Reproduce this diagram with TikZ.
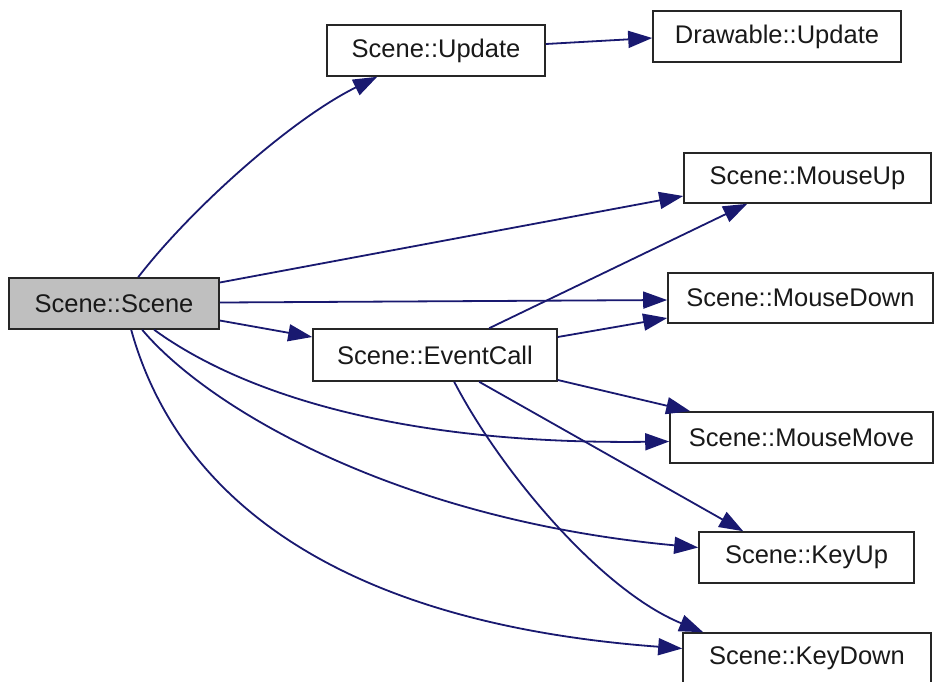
\documentclass[tikz,border=0pt]{standalone}
\usepackage{fontspec}
\setmainfont{Liberation Sans}
\usetikzlibrary{arrows.meta}
\definecolor{edgeblue}{HTML}{191970}
\definecolor{boxgray}{HTML}{BFBFBF}
\tikzset{
  fn/.style={draw=black!85, line width=1.6pt, fill=white, inner sep=0pt,
    font=\fontsize{25.5}{30}\selectfont, text=black!90},
  call/.style={draw=edgeblue, line width=1.8pt,
    -{Triangle[length=24pt,width=17pt]}},
}
\begin{document}
\begin{tikzpicture}[x=1pt,y=-1pt]
\useasboundingbox[fill=white] (0,0) rectangle (936,681);
\node[fn, fill=boxgray, minimum width=210pt, minimum height=51pt] (scene) at (114,303.5) {Scene::Scene};
\node[fn, minimum width=218pt, minimum height=51pt] (update) at (436,50.5) {Scene::Update};
\node[fn, minimum width=248pt, minimum height=51pt] (drawable) at (777,36.5) {Drawable::Update};
\node[fn, minimum width=247pt, minimum height=50pt] (mouseup) at (807.5,178) {Scene::MouseUp};
\node[fn, minimum width=265pt, minimum height=50pt] (mousedown) at (800.5,298) {Scene::MouseDown};
\node[fn, minimum width=244pt, minimum height=52pt] (eventcall) at (435,355) {Scene::EventCall};
\node[fn, minimum width=263pt, minimum height=51pt] (mousemove) at (801.5,437.5) {Scene::MouseMove};
\node[fn, minimum width=215pt, minimum height=51pt] (keyup) at (806.5,557.5) {Scene::KeyUp};
\node[fn, minimum width=248pt, minimum height=51pt] (keydown) at (807,658.5) {Scene::KeyDown};

\draw[call] ([xshift=130pt]scene.north west) .. controls (190,210) and (290,120) .. ([xshift=51pt]update.south west);
\draw[call] ([yshift=6.5pt]update.east) -- ([yshift=-1.5pt]drawable.west);
\draw[call] ([yshift=21pt]scene.east) -- ([yshift=-18pt]mouseup.west);
\draw[call] ([yshift=1pt]scene.east) -- ([yshift=-2pt]mousedown.west);
\draw[call] ([yshift=-17pt]scene.east) -- ([yshift=18pt]eventcall.west);
\draw[call] ([xshift=177pt]eventcall.north west) -- ([xshift=64pt]mouseup.south west);
\draw[call] ([yshift=18pt]eventcall.east) -- ([yshift=-20pt]mousedown.west);
\draw[call] ([yshift=-25pt]eventcall.east) -- ([xshift=21pt]mousemove.north west);
\draw[call] ([xshift=146pt]scene.south west) .. controls (230,385) and (380,445) .. ([yshift=-4pt]mousemove.west);
\draw[call] ([xshift=167pt]eventcall.south west) -- ([xshift=45pt]keyup.north west);
\draw[call] ([xshift=134pt]scene.south west) .. controls (210,410) and (400,520) .. ([yshift=10pt]keyup.west);
\draw[call] ([xshift=142pt]eventcall.south west) .. controls (500,470) and (600,590) .. ([xshift=21pt]keydown.north west);
\draw[call] ([xshift=123pt]scene.south west) .. controls (170,470) and (300,620) .. ([yshift=10pt]keydown.west);
\end{tikzpicture}
\end{document}
